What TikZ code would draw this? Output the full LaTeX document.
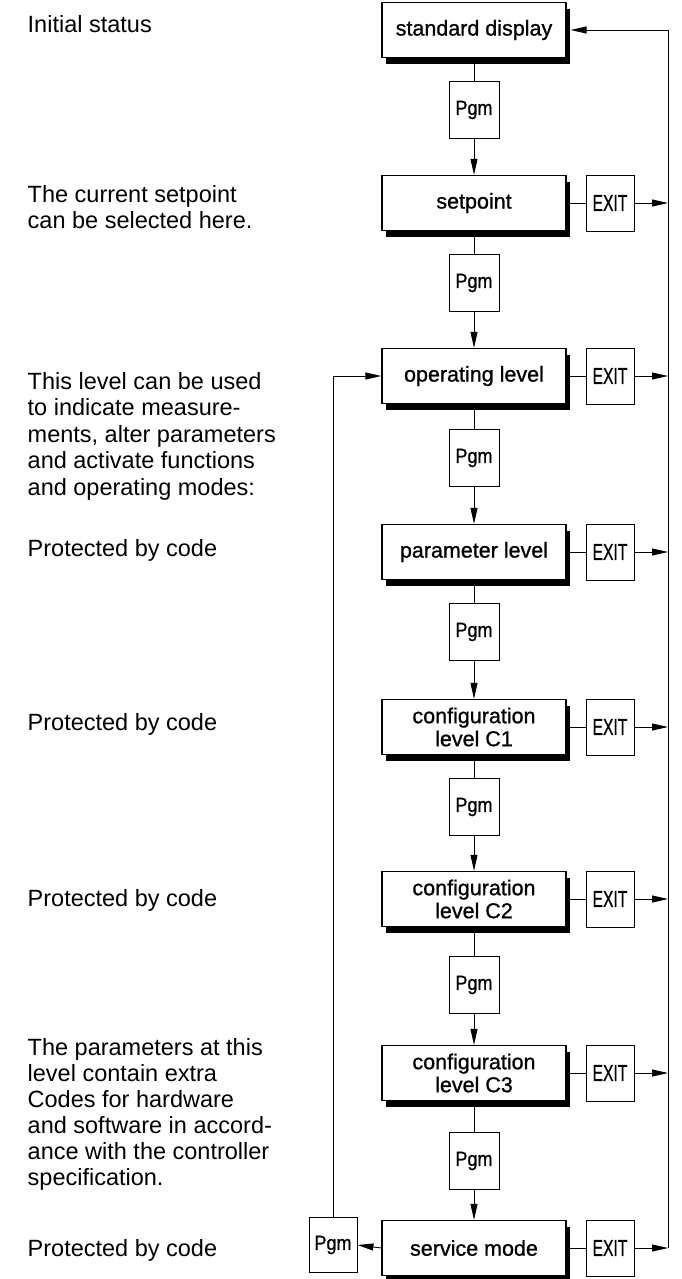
\documentclass[tikz,border=0pt]{standalone}
\usepackage{fontspec}
\setmainfont{Liberation Sans}
\newfontfamily\boxfont{Liberation Sans}[FakeBold=0.9]
\usetikzlibrary{arrows.meta,shadows}

\tikzset{
  level/.style={draw, line width=1.3pt, fill=white, minimum width=184pt,
    minimum height=55pt, inner sep=0pt, align=center,
    font=\boxfont\fontsize{21.5}{23}\selectfont,
    general shadow={fill=black, shadow xshift=4pt, shadow yshift=-6.5pt}},
  pgmbox/.style={draw, line width=0.9pt, fill=white, minimum width=50pt,
    minimum height=57pt, inner sep=0pt, font=\boxfont\fontsize{20.5}{22}\selectfont},
  exitbox/.style={pgmbox, minimum width=48pt, minimum height=56pt,
    font=\boxfont\fontsize{23}{25}\selectfont},
  note/.style={anchor=base west, inner sep=0pt,
    font=\fontsize{23.5}{26.6}\selectfont},
  link/.style={line width=0.9pt},
  flow/.style={link, -{Triangle[length=16pt,width=7pt]}},
}
\newcommand{\exitlabel}{\scalebox{0.68}[1]{EXIT}}
\newcommand{\pgmlabel}{\scalebox{0.88}[1]{Pgm}}

\begin{document}
\begin{tikzpicture}[x=1pt,y=-1pt]
\useasboundingbox (0,0) rectangle (681,1279);

% menu levels
\node[level] (sd) at (474,30)   {standard display};
\node[level] (sp) at (474,203)  {setpoint};
\node[level] (op) at (474,376)  {operating level};
\node[level] (pa) at (474,552)  {parameter level};
\node[level] (c1) at (474,727)  {configuration\\level C1};
\node[level] (c2) at (474,899)  {configuration\\level C2};
\node[level] (c3) at (474,1073) {configuration\\level C3};
\node[level] (sv) at (474,1248) {service mode};

% Pgm keys between the levels
\node[pgmbox] (p1) at (474,110)  {\pgmlabel};
\node[pgmbox] (p2) at (474,283)  {\pgmlabel};
\node[pgmbox] (p3) at (474,458)  {\pgmlabel};
\node[pgmbox] (p4) at (474,632)  {\pgmlabel};
\node[pgmbox] (p5) at (474,807)  {\pgmlabel};
\node[pgmbox] (p6) at (474,985)  {\pgmlabel};
\node[pgmbox] (p7) at (474,1161) {\pgmlabel};
\node[pgmbox, minimum width=48pt, minimum height=55pt] (pl) at (333,1245) {\pgmlabel};

% EXIT keys
\node[exitbox] (e1) at (610,203)  {\exitlabel};
\node[exitbox] (e2) at (610,376)  {\exitlabel};
\node[exitbox] (e3) at (610,552)  {\exitlabel};
\node[exitbox] (e4) at (610,727)  {\exitlabel};
\node[exitbox] (e5) at (610,899)  {\exitlabel};
\node[exitbox] (e6) at (610,1073) {\exitlabel};
\node[exitbox] (e7) at (610,1248) {\exitlabel};

% return bus on the right
\coordinate (rt) at (668,30);
\coordinate (rb) at (668,1248);

% downward chain
\draw[link] (sd.south) -- (p1.north);
\draw[flow] (p1.south) -- (sp.north);
\draw[link] (sp.south) -- (p2.north);
\draw[flow] (p2.south) -- (op.north);
\draw[link] (op.south) -- (p3.north);
\draw[flow] (p3.south) -- (pa.north);
\draw[link] (pa.south) -- (p4.north);
\draw[flow] (p4.south) -- (c1.north);
\draw[link] (c1.south) -- (p5.north);
\draw[flow] (p5.south) -- (c2.north);
\draw[link] (c2.south) -- (p6.north);
\draw[flow] (p6.south) -- (c3.north);
\draw[link] (c3.south) -- (p7.north);
\draw[flow] (p7.south) -- (sv.north);

% exits to the return bus
\foreach \lv/\ex in {sp/e1, op/e2, pa/e3, c1/e4, c2/e5, c3/e6, sv/e7}{
  \draw[link] (\lv.east) -- (\ex.west);
}
\foreach \ex in {e1,e2,e3,e4,e5,e6}{
  \draw[flow] (\ex.east) -- (\ex.east -| rt);
}
\draw[flow] (e7.east) -- (rb);
\draw[flow] (rb) -- (rt) -- ([xshift=4pt]sd.east);

% service mode back to the operating level
\draw[flow] (sv.west) -- (pl.east);
\draw[flow] (pl.north) -- (pl.north |- op.west) -- (op.west);

% explanations on the left
\node[note] (n1) at (27.5,33) {Initial status};
\node[note] (n2a) at (27.5,202) {The current setpoint};
\node[note] (n2b) at (27.5,228.6) {can be selected here.};
\node[note] (n3a) at (27.5,389) {This level can be used};
\node[note] (n3b) at (27.5,415.6) {to indicate measure-};
\node[note] (n3c) at (27.5,442.2) {ments, alter parameters};
\node[note] (n3d) at (27.5,468.8) {and activate functions};
\node[note] (n3e) at (27.5,495.4) {and operating modes:};
\node[note] (n4) at (27.5,556) {Protected by code};
\node[note] (n5) at (27.5,730) {Protected by code};
\node[note] (n6) at (27.5,906) {Protected by code};
\node[note] (n7a) at (27.5,1055) {The parameters at this};
\node[note] (n7b) at (27.5,1081) {level contain extra};
\node[note] (n7c) at (27.5,1107) {Codes for hardware};
\node[note] (n7d) at (27.5,1133) {and software in accord-};
\node[note] (n7e) at (27.5,1159) {ance with the controller};
\node[note] (n7f) at (27.5,1185) {specification.};
\node[note] (n8) at (27.5,1256) {Protected by code};
\end{tikzpicture}
\end{document}
